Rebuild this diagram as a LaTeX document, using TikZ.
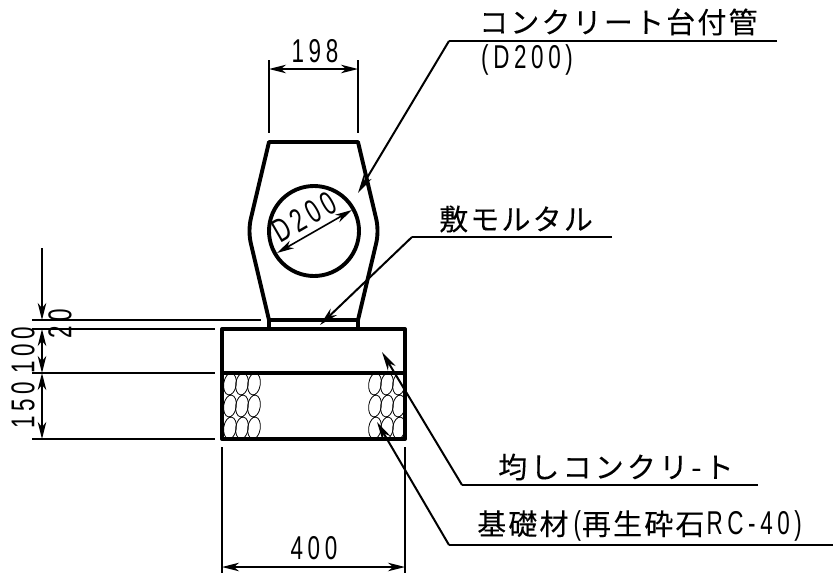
\documentclass[tikz,border=0pt]{standalone}
\usepackage{fontspec}
\usetikzlibrary{arrows.meta}
\newfontfamily\jpfont[LetterSpace=7.5,FakeBold=0.12]{Noto Sans CJK JP}
\newfontfamily\jpwide[LetterSpace=11,FakeBold=0.12]{Noto Sans CJK JP}
\newfontfamily\numfont[FakeStretch=0.68,LetterSpace=14]{Liberation Sans}
\newcommand{\numtxt}[1]{{\fontsize{33}{33}\selectfont\numfont #1}}
\tikzset{
  thick line/.style={line width=3.9pt,line join=round,line cap=round},
  thin line/.style={line width=2pt},
  dim/.style={line width=1.6pt,{Stealth[length=17pt,width=8.5pt,inset=5pt]}-{Stealth[length=17pt,width=8.5pt,inset=5pt]}},
  dimone/.style={line width=1.6pt,-{Stealth[length=17pt,width=8.5pt,inset=5pt]}},
  lead/.style={line width=2pt,-{Stealth[length=19pt,width=9pt,inset=6pt]}},
  stone/.style={line width=0.8pt},
  jp/.style={inner sep=0pt,font=\fontsize{29}{29}\selectfont\jpfont},
  num/.style={inner sep=0pt,font=\fontsize{33}{33}\selectfont\numfont}
}
\begin{document}
\begin{tikzpicture}[x=1pt,y=-1pt]
\useasboundingbox (0,0) rectangle (833,573);
% stones
\begin{scope}
\clip (222,373) rectangle (405,439);
\foreach \x in {230,242,254,375,387,399}
  \foreach \y in {384,406,428}
    \draw[stone,shift={(\x,\y)},rotate=-8] (0,0) ellipse [x radius=6.3,y radius=11];
\end{scope}
% concrete and base
\coordinate (bTL) at (222,329);
\coordinate (bTR) at (405,329);
\coordinate (bML) at (222,373);
\coordinate (bMR) at (405,373);
\coordinate (bBL) at (222,439);
\coordinate (bBR) at (405,439);
\draw[thick line] (bTL) -- (bTR) -- (bBR) -- (bBL) -- cycle;
\draw[thick line] (bML) -- (bMR);
% pipe stand
\draw[thick line] (269,329) -- (269,320)
  -- (251,244) .. controls (249,236) and (249,226) .. (251,218)
  -- (269,142) -- (358,142)
  -- (376,218) .. controls (378,226) and (378,236) .. (376,244)
  -- (358,320) -- (358,329);
\draw[thick line] (269,320) -- (358,320);
\coordinate (cc) at (314,231);
\draw[line width=3.9pt] (cc) circle [radius=45];
% dimension 198
\draw[thin line] (269,60) -- (269,133);
\draw[thin line] (358,60) -- (358,133);
\coordinate (d1a) at (269,69);
\coordinate (d1b) at (358,69);
\draw[dim] (d1a) -- (d1b);
\node[num] (t198) at (315,51) {198};
% dimension D200
\coordinate (d2a) at (277,253);
\coordinate (d2b) at (352,210);
\draw[dim] (d2a) -- (d2b);
\node[num,rotate=30] (t200) at (304,217) {D200};
% dimension 400
\draw[thin line] (222,447) -- (222,573);
\draw[thin line] (405,447) -- (405,573);
\coordinate (d4a) at (222,567);
\coordinate (d4b) at (405,567);
\draw[dim] (d4a) -- (d4b);
\node[num] (t400) at (314,548) {400};
% left dimensions
\draw[thin line] (32,320) -- (261,320);
\draw[thin line] (32,329) -- (215,329);
\draw[thin line] (32,373) -- (215,373);
\draw[thin line] (32,439) -- (215,439);
\coordinate (v0) at (42,248);
\coordinate (v1) at (42,320);
\coordinate (v2) at (42,329);
\coordinate (v3) at (42,373);
\coordinate (v4) at (42,439);
\draw[dimone] (v0) -- (v1);
\draw[dim] (v2) -- (v3);
\draw[dim] (v3) -- (v4);
\node[num,rotate=90] (t20) at (60,324) {20};
\node[num,rotate=90] (t100) at (23,350) {100};
\node[num,rotate=90] (t150) at (23,405) {150};
% leader 1
\coordinate (l1e) at (777,41);
\coordinate (l1k) at (449,41);
\coordinate (l1t) at (358,193);
\draw[thin line] (l1e) -- (l1k);
\draw[lead] (l1k) -- (l1t);
\node[jp,anchor=west] (n1) at (479,22) {コンクリート台付管};
\node[num,anchor=west] (n1b) at (481,60) {(D200)};
% leader 2
\coordinate (l2e) at (612,237);
\coordinate (l2k) at (412,237);
\coordinate (l2t) at (320,325);
\draw[thin line] (l2e) -- (l2k);
\draw[lead] (l2k) -- (l2t);
\node[jp,anchor=west] (n2) at (439,219) {敷モルタル};
% leader 3
\coordinate (l3e) at (758,485);
\coordinate (l3k) at (462,485);
\coordinate (l3t) at (382,352);
\draw[thin line] (l3e) -- (l3k);
\draw[lead] (l3k) -- (l3t);
\node[jp,anchor=west,font=\fontsize{29}{29}\selectfont\jpwide] (n3) at (498,467) {均しコンクリ-ト};
% leader 4
\coordinate (l4e) at (833,545);
\coordinate (l4k) at (449,545);
\coordinate (l4t) at (377,422);
\draw[thin line] (l4e) -- (l4k);
\draw[lead] (l4k) -- (l4t);
\node[jp,anchor=west] (n4) at (477,526) {基礎材\hspace{5pt}\numtxt{(}\hspace{1pt}再生砕石\hspace{2pt}\numtxt{RC-40)}};
\end{tikzpicture}
\end{document}
